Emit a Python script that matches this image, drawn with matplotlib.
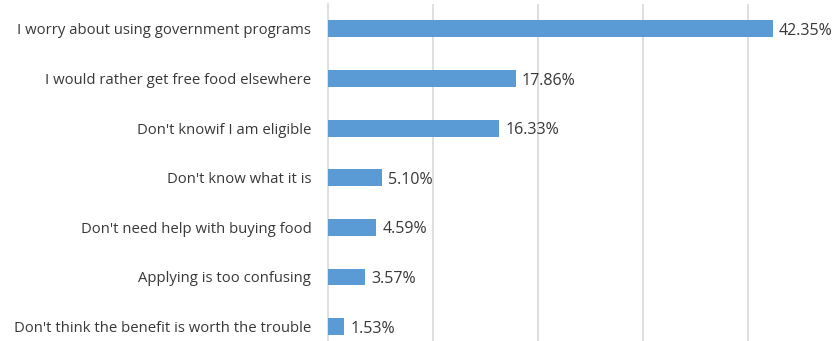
import matplotlib
matplotlib.use("Agg")
import matplotlib.pyplot as plt

categories = [
    "I worry about using government programs",
    "I would rather get free food elsewhere",
    "Don't knowif I am eligible",
    "Don't know what it is",
    "Don't need help with buying food",
    "Applying is too confusing",
    "Don't think the benefit is worth the trouble",
]
values = [42.35, 17.86, 16.33, 5.10, 4.59, 3.57, 1.53]
value_labels = ["42.35%", "17.86%", "16.33%", "5.10%", "4.59%", "3.57%", "1.53%"]

W, H = 839, 341
fig = plt.figure(figsize=(W / 100, H / 100), dpi=100)
left, right, top, bottom = 328, 839, 4, 341
ax = fig.add_axes([left / W, 1 - bottom / H, (right - left) / W, (bottom - top) / H])

ypos = list(range(len(categories)))
ax.barh(ypos, values, height=0.34, color="#5B9BD5", zorder=3)
ax.set_xlim(0, (right - left) / 10.5)
ax.set_ylim(6.29, -0.5)
ax.set_xticks([10, 20, 30, 40])
ax.xaxis.grid(True, color="#d9d9d9", linewidth=1.2, zorder=0)
ax.tick_params(axis="x", length=0, labelbottom=False)
ax.tick_params(axis="y", length=0, pad=12)
ax.set_yticks(ypos)
ax.set_yticklabels(categories, fontsize=10.7, color="#383838", family="Open Sans")
for s in ["top", "right", "bottom"]:
    ax.spines[s].set_visible(False)
ax.spines["left"].set_color("#d9d9d9")
ax.spines["left"].set_linewidth(1.2)

for y, v, lab in zip(ypos, values, value_labels):
    ax.annotate(lab, (v, y), xytext=(4.5, -1.5), textcoords="offset points",
                va="center", ha="left", fontsize=11.5, color="#383838", family="Open Sans")

fig.savefig("out.png", dpi=100)
